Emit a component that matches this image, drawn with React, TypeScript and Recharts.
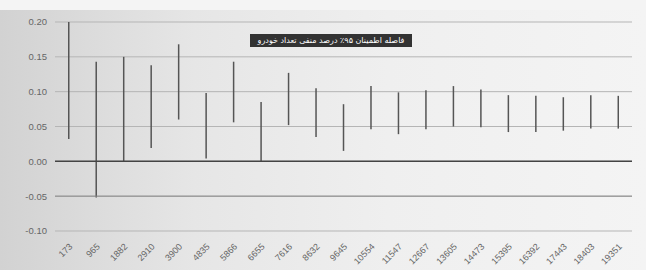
import { Bar, BarChart, CartesianGrid, ReferenceLine, XAxis, YAxis } from "recharts"

const categories = [
  "173", "965", "1882", "2910", "3900", "4835", "5866", "6655", "7616", "8632", "9645",
  "10554", "11547", "12667", "13605", "14473", "15395", "16392", "17443", "18403", "19351",
]
const lows = [
  0.032, -0.052, 0.0, 0.019, 0.06, 0.004, 0.056, 0.0, 0.052, 0.035, 0.015,
  0.046, 0.039, 0.046, 0.05, 0.049, 0.042, 0.042, 0.044, 0.047, 0.047,
]
const highs = [
  0.2, 0.143, 0.15, 0.138, 0.168, 0.098, 0.143, 0.085, 0.127, 0.105, 0.082,
  0.108, 0.099, 0.102, 0.108, 0.103, 0.095, 0.094, 0.092, 0.095, 0.094,
]
const yTicks = [-0.1, -0.05, 0, 0.05, 0.1, 0.15, 0.2]
const title = "فاصله اطمینان ۹۵٪ درصد منفی تعداد خودرو"

const data = categories.map((name, i) => ({ name, range: [lows[i], highs[i]] }))

const AngledTick = (props: any) => {
  const { x, y, payload } = props
  return (
    <g transform={`translate(${x},${y + 4})`}>
      <text textAnchor="end" transform="rotate(-45)" fontSize={9} fill="#666" dy={6}>
        {payload.value}
      </text>
    </g>
  )
}

export default function App() {
  return (
    <div
      style={{
        position: "absolute",
        top: 0,
        left: 0,
        width: 646,
        height: 270,
        background: "linear-gradient(90deg, #d2d2d2 0%, #e6e6e6 30%, #efefef 60%, #f4f4f4 100%)",
        fontFamily: "Arial, 'Liberation Sans', sans-serif",
        overflow: "hidden",
      }}
    >
      <div style={{ position: "absolute", top: 0, left: 0, width: 646, height: 10, background: "#f4f4f4" }} />
      <BarChart
        width={646}
        height={270}
        data={data}
        margin={{ top: 22, right: 14, left: 0, bottom: 0 }}
        barCategoryGap={0}
      >
        <CartesianGrid vertical={false} stroke="#b5b5b5" />
        <XAxis
          dataKey="name"
          interval={0}
          height={39}
          tickLine={false}
          axisLine={false}
          tick={<AngledTick />}
        />
        <YAxis
          domain={[-0.1, 0.2]}
          ticks={yTicks}
          width={55}
          tickLine={false}
          axisLine={false}
          tickFormatter={(v: number) => v.toFixed(2)}
          tick={{ fontSize: 9.5, fill: "#666" }}
        />
        <ReferenceLine y={-0.05} stroke="#8a8a8a" strokeWidth={1} />
        <ReferenceLine y={0} stroke="#444" strokeWidth={1.5} />
        <Bar dataKey="range" fill="#555" barSize={1.5} isAnimationActive={false} />
      </BarChart>
      <div
        dir="rtl"
        style={{
          position: "absolute",
          left: 250,
          top: 34,
          width: 162,
          height: 13,
          background: "#333",
          color: "#fff",
          fontSize: 8,
          lineHeight: "13px",
          textAlign: "center",
          fontFamily: "'DejaVu Sans', sans-serif",
          whiteSpace: "nowrap",
        }}
      >
        {title}
      </div>
    </div>
  )
}
